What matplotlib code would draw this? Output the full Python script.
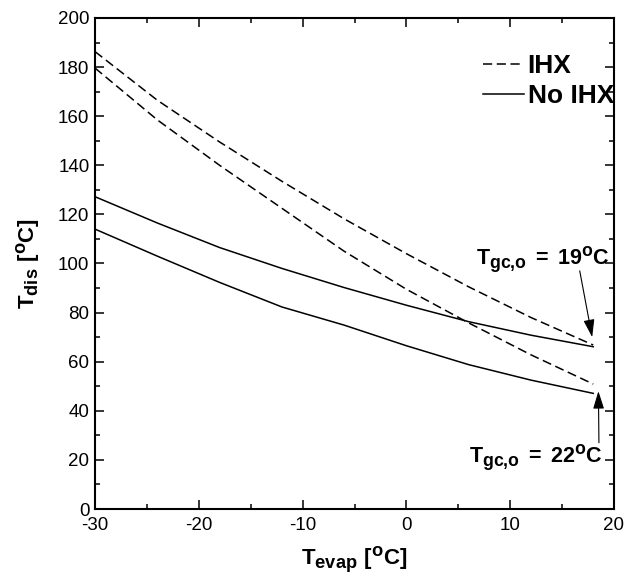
import matplotlib
matplotlib.use("Agg")
import matplotlib.pyplot as plt
import matplotlib._mathtext as mathtext_internals
from matplotlib.ticker import MultipleLocator

# evaporating temperature [C] and compressor discharge temperature [C]
t_evap = [-30, -24, -18, -12, -6, 0, 6, 12, 18]
ihx_gc19 = [186.3, 166.5, 149.5, 133.5, 118.2, 104.0, 90.5, 78.0, 66.8]
ihx_gc22 = [179.6, 158.5, 140.0, 122.5, 105.0, 89.5, 75.8, 62.8, 50.9]
noihx_gc19 = [127.2, 116.5, 106.5, 98.0, 90.2, 83.0, 76.3, 70.8, 66.1]
noihx_gc22 = [114.0, 103.0, 92.3, 82.3, 74.9, 66.5, 58.8, 52.5, 47.1]

series_labels = ["IHX", "No IHX"]
note_19 = r"$\mathbf{T_{gc{,}o}\;{=}\;19^{o}C}$"
note_22 = r"$\mathbf{T_{gc{,}o}\;{=}\;22^{o}C}$"

plt.rcParams["font.family"] = ["Liberation Sans", "DejaVu Sans"]
plt.rcParams["axes.unicode_minus"] = False
plt.rcParams["mathtext.fontset"] = "custom"
plt.rcParams["mathtext.rm"] = "Liberation Sans:bold"
plt.rcParams["mathtext.bf"] = "Liberation Sans:bold"
plt.rcParams["mathtext.it"] = "Liberation Sans:bold"
# larger sub/superscripts
mathtext_internals.SHRINK_FACTOR = 0.82

fig = plt.figure(figsize=(6.26, 5.8), dpi=100)
ax = fig.add_axes([0.1518, 0.1224, 0.829, 0.8466])

dash = (6, 3)
ax.plot(t_evap, ihx_gc19, color="black", lw=1.1, dashes=dash, label=series_labels[0])
ax.plot(t_evap, noihx_gc19, color="black", lw=1.1, label=series_labels[1])
ax.plot(t_evap, ihx_gc22, color="black", lw=1.1, dashes=dash)
ax.plot(t_evap, noihx_gc22, color="black", lw=1.1)

ax.set_xlim(-30, 20)
ax.set_ylim(0, 200)
ax.xaxis.set_major_locator(MultipleLocator(10))
ax.xaxis.set_minor_locator(MultipleLocator(5))
ax.yaxis.set_major_locator(MultipleLocator(20))
ax.yaxis.set_minor_locator(MultipleLocator(10))
ax.tick_params(which="both", direction="in", top=True, right=True,
               width=1.1, labelsize=13.5, pad=4)
ax.tick_params(axis="x", pad=6)
ax.tick_params(which="major", length=6.5)
ax.tick_params(which="minor", length=3.8)
for sp in ax.spines.values():
    sp.set_linewidth(1.5)

ax.set_xlabel(r"$\mathbf{T_{evap}\ [^{o}C]}$", fontsize=16)
ax.set_ylabel(r"$\mathbf{T_{dis}\ [^{o}C]}$", fontsize=16)
ax.xaxis.set_label_coords(0.5, -0.074)
ax.yaxis.set_label_coords(-0.102, 0.5)

leg = ax.legend(loc="upper right", bbox_to_anchor=(1.0, 0.926), frameon=False,
                prop={"weight": "bold", "size": 19}, handlelength=1.55,
                handletextpad=0.15, labelspacing=0.22, borderpad=0,
                borderaxespad=0)

arrow = dict(arrowstyle="-|>,head_length=0.9,head_width=0.28", color="black",
             lw=0.8, mutation_scale=12, shrinkA=0, shrinkB=0)
ax.text(13.1, 99.4, note_19, fontsize=15.5, ha="center", va="baseline")
ax.annotate("", xy=(17.9, 70.0), xytext=(16.7, 97.0), arrowprops=arrow)
ax.text(12.5, 18.7, note_22, fontsize=15.5, ha="center", va="baseline")
ax.annotate("", xy=(18.5, 48.0), xytext=(18.55, 27.0), arrowprops=arrow)

fig.savefig("out.png", dpi=100)
